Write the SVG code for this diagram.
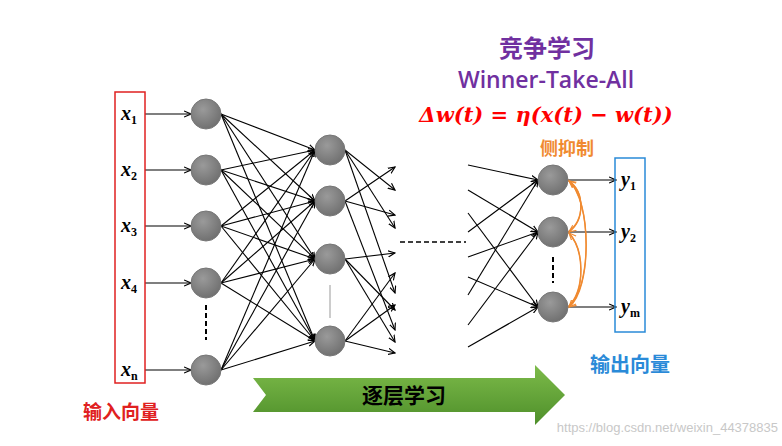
<svg xmlns="http://www.w3.org/2000/svg" width="782" height="446" viewBox="0 0 782 446">
<defs>
<radialGradient id="g" cx="0.4" cy="0.35" r="0.7"><stop offset="0" stop-color="#9a9a9a"/><stop offset="1" stop-color="#6e6e6e"/></radialGradient>
<marker id="a" viewBox="0 0 10 10" refX="9" refY="5" markerWidth="7" markerHeight="7" orient="auto"><path d="M0,1 L9,5 L0,9" fill="none" stroke="#000" stroke-width="1.5"/></marker>
<marker id="o" viewBox="0 0 10 10" refX="9" refY="5" markerWidth="6" markerHeight="6" orient="auto"><path d="M0,1 L9,5 L0,9" fill="none" stroke="#f08a30" stroke-width="1.5"/></marker>
<linearGradient id="gr" x1="0" y1="0" x2="0" y2="1"><stop offset="0" stop-color="#7dbb4a"/><stop offset="1" stop-color="#4e8f2a"/></linearGradient>
</defs>
<style>
.n{fill:url(#g);stroke:#777;stroke-width:1}
.l{stroke:#000;stroke-width:1.1;fill:none;marker-end:url(#a)}
.x{font-family:"Liberation Serif",serif;font-style:italic;font-weight:bold;font-size:20px}
.s{font-family:"Liberation Serif",serif;font-weight:bold;font-size:12px;font-style:normal}
.c{font-family:"Noto Sans CJK SC",sans-serif;font-weight:bold;text-anchor:middle}
</style>
<rect width="782" height="446" fill="#fff"/>
<g id="connectors">
<path class="l" d="M145,114H191"/><path class="l" d="M145,170H191"/><path class="l" d="M145,226H191"/><path class="l" d="M145,283H191"/><path class="l" d="M145,370H191"/>
<path class="l" d="M221,114L315,150"/><path class="l" d="M221,114L315,201"/><path class="l" d="M221,114L315,259"/><path class="l" d="M221,114L315,341"/>
<path class="l" d="M221,170L315,150"/><path class="l" d="M221,170L315,201"/><path class="l" d="M221,170L315,259"/><path class="l" d="M221,170L315,341"/>
<path class="l" d="M221,226L315,150"/><path class="l" d="M221,226L315,201"/><path class="l" d="M221,226L315,259"/><path class="l" d="M221,226L315,341"/>
<path class="l" d="M221,283L315,150"/><path class="l" d="M221,283L315,201"/><path class="l" d="M221,283L315,259"/><path class="l" d="M221,283L315,341"/>
<path class="l" d="M221,370L315,150"/><path class="l" d="M221,370L315,201"/><path class="l" d="M221,370L315,259"/><path class="l" d="M221,370L315,341"/>
<path class="l" d="M345,150L395,190"/><path class="l" d="M345,150L395,228"/><path class="l" d="M345,150L395,293"/>
<path class="l" d="M345,201L395,167"/><path class="l" d="M345,201L395,215"/><path class="l" d="M345,201L395,330"/>
<path class="l" d="M345,259L395,253"/><path class="l" d="M345,259L395,310"/><path class="l" d="M345,259L395,342"/>
<path class="l" d="M345,341L395,273"/><path class="l" d="M345,341L395,305"/><path class="l" d="M345,341L395,353"/>
<path d="M330,285V318" stroke="#999" stroke-width="1"/>
<path d="M400,242H466" stroke="#000" stroke-width="1.5" stroke-dasharray="5,3"/>
<path class="l" d="M468,165L538,180"/><path class="l" d="M468,190L538,232"/><path class="l" d="M468,213L538,307"/>
<path class="l" d="M468,232L538,180"/><path class="l" d="M468,257L538,232"/><path class="l" d="M468,277L538,307"/>
<path class="l" d="M468,295L538,180"/><path class="l" d="M468,325L538,232"/><path class="l" d="M468,347L538,307"/>
<path class="l" d="M568,180H616"/><path class="l" d="M568,232H616"/><path class="l" d="M568,307H616"/>
<path d="M206,305V340" stroke="#000" stroke-width="2" stroke-dasharray="5,3"/>
<path d="M553,257V283" stroke="#000" stroke-width="2" stroke-dasharray="5,3"/>
<g fill="none" stroke="#f08a30" stroke-width="1.3" marker-end="url(#o)">
<path d="M568,180C585,192 585,220 569,232"/><path d="M568,232C585,220 585,192 569,181"/>
<path d="M568,232C585,250 585,290 569,307"/><path d="M568,307C585,290 585,250 569,233"/>
<path d="M568,180C592,200 592,290 569,307"/><path d="M568,307C592,290 592,200 569,181"/>
</g>
</g>
<g id="layer1"><circle class="n" cx="206" cy="114" r="15"/><circle class="n" cx="206" cy="170" r="15"/><circle class="n" cx="206" cy="226" r="15"/><circle class="n" cx="206" cy="283" r="15"/><circle class="n" cx="206" cy="370" r="15"/></g>
<g id="layer2"><circle class="n" cx="330" cy="150" r="15"/><circle class="n" cx="330" cy="201" r="15"/><circle class="n" cx="330" cy="259" r="15"/><circle class="n" cx="330" cy="341" r="15"/></g>
<g id="outputs"><circle class="n" cx="553" cy="180" r="15"/><circle class="n" cx="553" cy="232" r="15"/><circle class="n" cx="553" cy="307" r="15"/></g>
<g id="input">
<rect x="115" y="92" width="30" height="291" fill="none" stroke="#e02020" stroke-width="1.5"/>
<text class="x" x="121" y="120">x<tspan class="s" dy="4">1</tspan></text>
<text class="x" x="121" y="176">x<tspan class="s" dy="4">2</tspan></text>
<text class="x" x="121" y="232">x<tspan class="s" dy="4">3</tspan></text>
<text class="x" x="121" y="289">x<tspan class="s" dy="4">4</tspan></text>
<text class="x" x="121" y="376">x<tspan class="s" dy="4">n</tspan></text>
<text class="c" x="121" y="419" font-size="19" fill="#e02020">输入向量</text>
</g>
<g id="output">
<rect x="615" y="158" width="30" height="174" fill="none" stroke="#2a8ad8" stroke-width="1.5"/>
<text class="x" x="621" y="186">y<tspan class="s" dy="4">1</tspan></text>
<text class="x" x="621" y="238">y<tspan class="s" dy="4">2</tspan></text>
<text class="x" x="621" y="313">y<tspan class="s" dy="4">m</tspan></text>
<text class="c" x="630" y="372" font-size="20" fill="#2a8ad8">输出向量</text>
</g>
<g id="arrow">
<path d="M253,378H535V365L565,395L535,425V412H253L266,395Z" fill="url(#gr)"/>
<text class="c" x="404" y="403" font-size="21" fill="#000">逐层学习</text>
</g>
<g id="titles">
<text class="c" x="547" y="57" font-size="24" fill="#7030a0">竞争学习</text>
<text x="546" y="88" font-family="'Open Sans',sans-serif" font-weight="600" font-size="23" text-anchor="middle" fill="#7030a0">Winner-Take-All</text>
<text x="546" y="122" font-family="'DejaVu Serif',serif" font-weight="bold" font-style="italic" font-size="21" text-anchor="middle" fill="#ff0000">Δw(t) = η(x(t) − w(t))</text>
<text class="c" x="567" y="155" font-size="18" fill="#f08a30">侧抑制</text>
</g>
<text x="778" y="432" font-family="'Liberation Sans',sans-serif" font-size="13" text-anchor="end" fill="#c8c8c8">https://blog.csdn.net/weixin_44378835</text>
</svg>
